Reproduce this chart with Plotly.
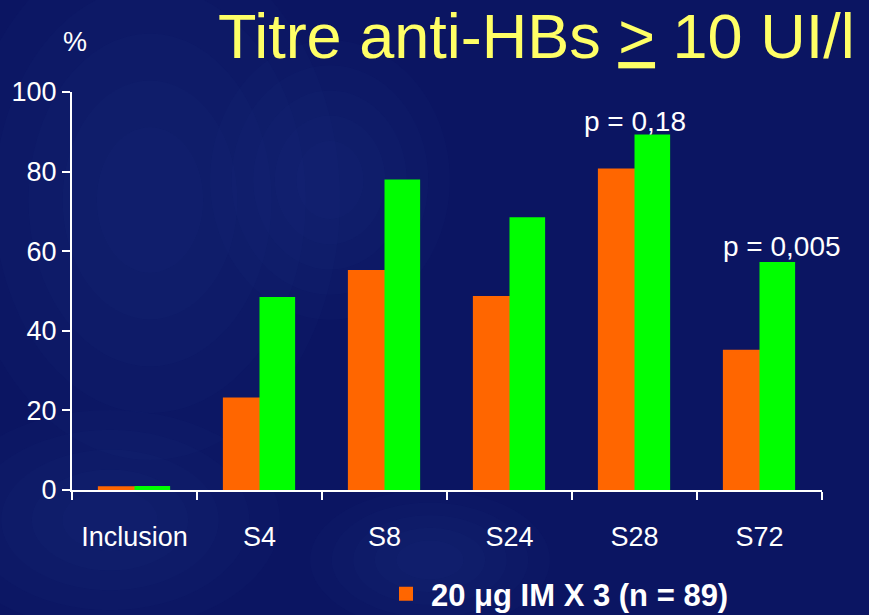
import plotly.graph_objects as go

categories = ["Inclusion", "S4", "S8", "S24", "S28", "S72"]
orange_vals = [0.7, 23, 55, 48.5, 80.5, 35]
green_vals = [1.0, 48.5, 78, 68.5, 89.3, 57.3]
orange_name = "<b>20 μg IM X 3 (n = 89)</b>"
green_name = "Groupe 2"
y_ticks = [0, 20, 40, 60, 80, 100]
title_text = "Titre anti-HBs <u>></u> 10 UI/l"
p_labels = ["p = 0,18", "p = 0,005"]
p_cats = ["S28", "S72"]
p_yvals = [92.6, 61.3]

W, H = 869, 615
L, R, T, B = 72, 47, 92, 125
BG = "#0B1562"
FONT = "Liberation Sans, Arial, sans-serif"
PW, PH = W - L - R, H - T - B


def px(x):
    return (x - L) / PW


def py(y):
    return (H - B - y) / PH


fig = go.Figure()
fig.add_trace(go.Bar(x=categories, y=orange_vals, name=orange_name,
                     marker=dict(color="#FF6600", line=dict(color="#FF6600", width=2))))
fig.add_trace(go.Bar(x=categories, y=green_vals, name=green_name, showlegend=False,
                     marker=dict(color="#00FF00", line=dict(width=0))))

# faint, soft cloudy texture of the slide background (stacked translucent ellipses)
blobs = [
    (150, 200, 190, 260),
    (110, 520, 170, 110),
    (330, 180, 120, 140),
    (430, 560, 120, 70),
]
for cx, cy, rx, ry in blobs:
    for k in range(5):
        f = 1 - k * 0.18
        fig.add_shape(type="circle", xref="paper", yref="paper",
                      x0=px(cx - rx * f), x1=px(cx + rx * f),
                      y0=py(cy + ry * f), y1=py(cy - ry * f),
                      fillcolor="rgba(70,85,170,0.035)", line=dict(width=0),
                      layer="below")

fig.update_layout(
    width=W, height=H,
    margin=dict(l=L, r=R, t=T, b=B, pad=0, autoexpand=False),
    paper_bgcolor=BG, plot_bgcolor="rgba(0,0,0,0)",
    barmode="group", bargap=0.43, bargroupgap=0,
    font=dict(family=FONT, color="white", size=27),
    showlegend=True,
    legend=dict(orientation="h", x=px(381), xanchor="left",
                y=py(594), yanchor="middle",
                font=dict(size=31, color="white", family=FONT),
                bgcolor="rgba(0,0,0,0)", itemclick=False, itemwidth=40),
    title=dict(text=title_text, x=218 / W, xanchor="left", xref="container",
               y=1 - 36 / H, yanchor="middle", yref="container",
               font=dict(size=63, color="#FFFF66", family=FONT)),
)

fig.update_xaxes(
    range=[-0.5, len(categories) - 0.5],
    showline=True, linecolor="white", linewidth=2,
    ticks="outside", tickson="boundaries", ticklen=8, tickwidth=2, tickcolor="white",
    showgrid=False, zeroline=False,
    tickfont=dict(size=27, color="white", family=FONT),
    ticklabelstandoff=22,
)
fig.update_yaxes(
    range=[0, 100], tickvals=y_ticks,
    showline=True, linecolor="white", linewidth=2,
    ticks="outside", ticklen=8, tickwidth=2, tickcolor="white",
    showgrid=False, zeroline=False,
    tickfont=dict(size=27, color="white", family=FONT),
)

fig.add_annotation(text="%", xref="paper", yref="paper",
                   x=px(74.5), y=py(42.5),
                   xanchor="center", yanchor="middle", showarrow=False,
                   font=dict(size=27, color="white", family=FONT))

x_shifts = [0, 22]
for lab, cat, yv, xs in zip(p_labels, p_cats, p_yvals, x_shifts):
    fig.add_annotation(text=lab, x=cat, y=yv, xref="x", yref="y", xshift=xs,
                       xanchor="center", yanchor="middle", showarrow=False,
                       font=dict(size=28, color="white", family=FONT))

fig.write_html("out.html", config={"displayModeBar": False},
               post_script="document.body.style.margin='0';document.body.style.overflow='hidden';")
